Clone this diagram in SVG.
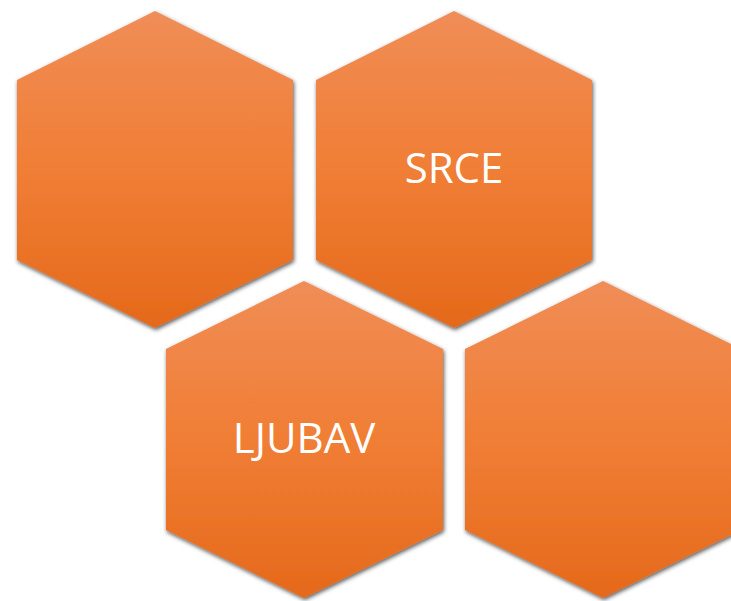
<svg xmlns="http://www.w3.org/2000/svg" width="731" height="601" viewBox="0 0 731 601">
<style>
.hex{fill:url(#og);filter:url(#sh)}
.lbl{fill:#ffffff;font-family:"Open Sans","Liberation Sans",sans-serif;font-size:42px;text-anchor:middle}
</style>
<defs>
<linearGradient id="og" x1="0" y1="0" x2="0" y2="1">
<stop offset="0" stop-color="#F08D56"/>
<stop offset="0.5" stop-color="#F07E35"/>
<stop offset="1" stop-color="#E5691B"/>
</linearGradient>
<filter id="sh" x="-10%" y="-10%" width="120%" height="120%">
<feDropShadow dx="1" dy="2" stdDeviation="2.2" flood-color="#000" flood-opacity="0.65"/>
</filter>
</defs>
<rect width="731" height="601" fill="#ffffff"/>
<g id="hex1"><polygon class="hex" points="155,11 293,80 293,260 155,328 17,260 17,80"/></g>
<g id="hex2"><polygon class="hex" points="454,11 592,80 592,260 454,328 316,260 316,80"/><text class="lbl" x="454" y="183">SRCE</text></g>
<g id="hex3"><polygon class="hex" points="304,281 443,349 443,530 304,598 166,530 166,349"/><text class="lbl" x="304" y="453">LJUBAV</text></g>
<g id="hex4"><polygon class="hex" points="603,281 741,349 741,530 603,598 465,530 465,349"/></g>
<g id="connectors"/>
</svg>
